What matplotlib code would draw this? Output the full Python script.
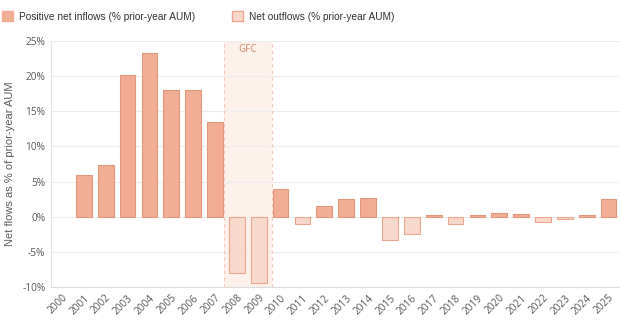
import numpy as np
import matplotlib.pyplot as plt
from matplotlib.patches import Patch

# annual net flows, % of prior-year AUM
years = [str(y) for y in range(2000, 2026)]
flows = [np.nan, 6.0, 7.3, 20.2, 23.3, 18.0, 18.0, 13.5, -8.0, -9.4,
         4.0, -1.1, 1.5, 2.5, 2.6, -3.3, -2.4, 0.2, -1.1, 0.2,
         0.5, 0.4, -0.8, -0.3, 0.2, 2.5]
yticks = [-10, -5, 0, 5, 10, 15, 20, 25]

pos_fill, pos_edge = '#f2ae95', '#e2977c'
neg_fill, neg_edge = '#f9d8cc', '#e9a690'
txt = '#5a5a5a'

fig = plt.figure(figsize=(6.2, 3.31), dpi=100)
ax = fig.add_axes([51 / 620, 1 - 287 / 331, 568.5 / 620, 246 / 331])

x = np.arange(len(years))
vals = np.array(flows, dtype=float)
pos = np.where(vals > 0, vals, np.nan)
neg = np.where(vals < 0, vals, np.nan)

# GFC band
ax.axvspan(7.4, 9.6, color='#fdf1ec', zorder=0, lw=0)
for xv in (7.4, 9.6):
    ax.axvline(xv, color='#f5c9ba', lw=0.8, ls=(0, (3, 3)), zorder=1)
ax.text(8.5, 23.8, 'GFC', ha='center', va='center', color='#e0a08a',
        fontsize=7, fontfamily='Open Sans', fontweight='semibold')

ax.bar(x, pos, width=0.72, color=pos_fill, edgecolor=pos_edge, lw=0.8, zorder=3)
ax.bar(x, neg, width=0.72, color=neg_fill, edgecolor=neg_edge, lw=0.8, zorder=3)

ax.set_xlim(-0.5, len(years) - 0.5)
ax.set_ylim(-10, 25)
ax.set_yticks(yticks)
ax.set_yticklabels([f'{t}%' for t in yticks])
ax.set_xticks(x)
ax.set_xticklabels(years, rotation=45, ha='right', rotation_mode='anchor')
ax.grid(axis='y', color='#ececec', lw=0.8, zorder=0)
ax.set_axisbelow(True)
for s in ('top', 'right'):
    ax.spines[s].set_visible(False)
ax.spines['left'].set_color('#e4e4e4')
ax.spines['bottom'].set_color('#dcdcdc')
ax.tick_params(length=0, labelsize=7.3, labelcolor=txt, pad=4)
for lab in ax.get_xticklabels() + ax.get_yticklabels():
    lab.set_fontfamily('Open Sans')
ax.set_ylabel('Net flows as % of prior-year AUM', fontsize=8, color=txt,
              fontfamily='Liberation Sans', labelpad=5)

handles = [Patch(facecolor=pos_fill, edgecolor=pos_fill),
           Patch(facecolor=neg_fill, edgecolor=neg_edge)]
fig.legend(handles, ['Positive net inflows (% prior-year AUM)',
                     'Net outflows (% prior-year AUM)'],
           loc='upper left', bbox_to_anchor=(-0.012, 0.993), ncol=2, frameon=False,
           prop={'family': 'Liberation Sans', 'size': 7.3}, labelcolor='#333333',
           handlelength=1.1, handleheight=1.1, columnspacing=3.6, handletextpad=0.6)

fig.savefig('out.png', dpi=100)
